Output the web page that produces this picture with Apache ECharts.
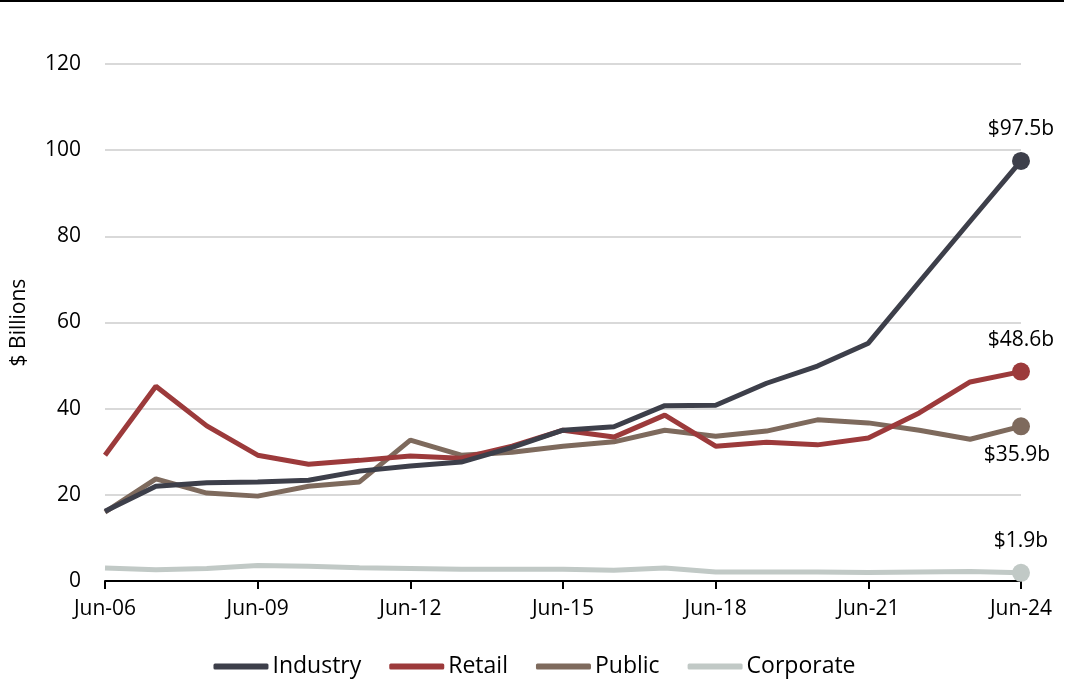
<!DOCTYPE html>
<html><head><meta charset="utf-8">
<script src="https://cdn.jsdelivr.net/npm/echarts@6/dist/echarts.min.js"></script>
<style>html,body{margin:0;padding:0;background:#fff}#c{width:1069px;height:684px}</style>
</head><body><div id="c"></div>
<script>
const categories = ['Jun-06','Jun-07','Jun-08','Jun-09','Jun-10','Jun-11','Jun-12','Jun-13','Jun-14','Jun-15','Jun-16','Jun-17','Jun-18','Jun-19','Jun-20','Jun-21','Jun-22','Jun-23','Jun-24'];
const industry = [16.2,22.0,22.8,23.0,23.4,25.5,26.7,27.6,31.0,35.0,35.8,40.7,40.8,45.9,49.9,55.2,69.4,83.5,97.5];
const retail = [29.2,45.2,36.0,29.2,27.1,28.0,29.0,28.5,31.3,35.0,33.4,38.5,31.3,32.2,31.6,33.2,39.0,46.2,48.6];
const publicS = [16.0,23.7,20.4,19.7,22.0,23.0,32.7,29.2,29.9,31.3,32.3,35.0,33.6,34.8,37.4,36.7,35.0,32.9,35.9];
const corporate = [3.0,2.6,2.9,3.6,3.4,3.1,2.9,2.7,2.7,2.7,2.5,3.0,2.1,2.1,2.1,2.0,2.1,2.2,1.9];
const endLabels = ['$97.5b','$48.6b','$35.9b','$1.9b'];
const yTicks = [0,20,40,60,80,100,120];

const FONT = '"Open Sans"';
const colors = ['#3d3f4a','#9c3a3b','#7e6a5d','#c1c9c6'];
const names = ['Industry','Retail','Public','Corporate'];
const values = [industry, retail, publicS, corporate];
const labelPos = ['top','top','bottom','top'];

function buildData(arr, idx){
  return arr.map((v,i)=> i===arr.length-1 ? {
    value:v, symbol:'circle', symbolSize:18,
    label:{show:true, position:labelPos[idx], distance:idx===2?9:12, offset: idx===2?[-4,0]:[0,0], formatter:endLabels[idx], color:'#000', fontFamily:FONT, fontSize:21}
  } : {value:v, symbol:'none'});
}

const chart = echarts.init(document.getElementById('c'), null, {renderer:'canvas'});
chart.setOption({
  animation:false,
  backgroundColor:'#fff',
  color:colors,
  graphic:[{type:'rect', shape:{x:0,y:0,width:1064,height:2}, style:{fill:'#000'}}],
  grid:{left:105,right:48,top:64,bottom:103,containLabel:false},
  legend:{
    bottom:1, left:'center', itemWidth:55, itemHeight:6, itemGap:28,
    icon:'roundRect',
    textStyle:{fontFamily:FONT,fontSize:23,color:'#000',padding:[0,0,0,-1]},
    data:names
  },
  xAxis:{
    type:'category', data:categories, boundaryGap:false,
    axisLine:{lineStyle:{color:'#000',width:2}},
    axisTick:{show:true, inside:false, length:8, lineStyle:{color:'#000',width:2}, interval:(i)=>i%3===0, alignWithLabel:true},
    axisLabel:{interval:(i)=>i%3===0, color:'#000', fontFamily:FONT, fontSize:21, margin:18},
    splitLine:{show:false}
  },
  yAxis:{
    type:'value', min:yTicks[0], max:yTicks[yTicks.length-1], interval:20,
    name:'$ Billions', nameLocation:'middle', nameGap:75, nameRotate:90,
    nameTextStyle:{fontFamily:FONT,fontSize:21,color:'#000'},
    axisLine:{show:false}, axisTick:{show:false},
    axisLabel:{color:'#000',fontFamily:FONT,fontSize:21,margin:24},
    splitLine:{lineStyle:{color:'#d9d9d9',width:2}}
  },
  series: names.map((n,idx)=>({
    name:n, type:'line', data:buildData(values[idx], idx),
    lineStyle:{width:5, color:colors[idx]}, itemStyle:{color:colors[idx]},
    symbol:'none', showSymbol:true, z: 10-idx
  }))
});
</script></body></html>
